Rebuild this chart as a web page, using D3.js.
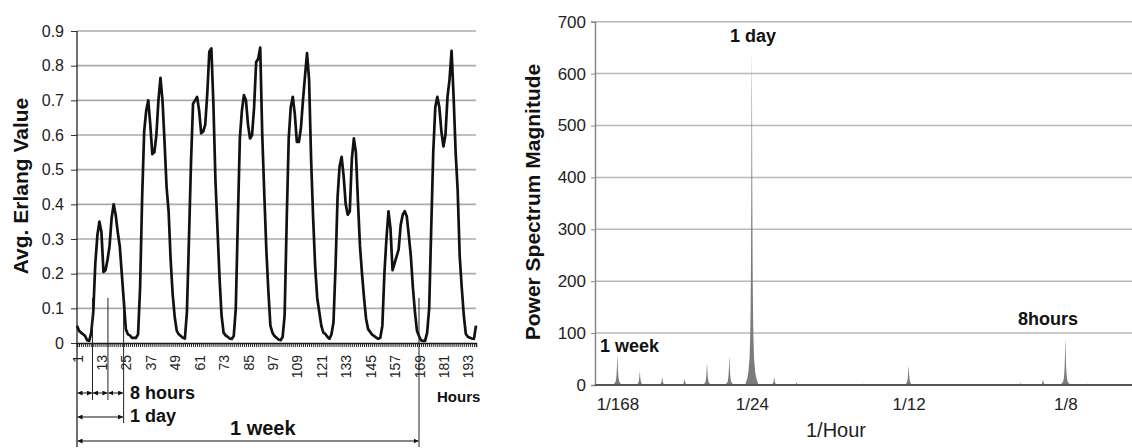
<!DOCTYPE html>
<html><head><meta charset="utf-8">
<script src="https://cdn.jsdelivr.net/npm/d3@7"></script>
<style>
body{margin:0;background:#fff;}
svg{display:block;font-family:"Liberation Sans",Arial,Helvetica,sans-serif;}
</style>
</head><body>
<svg id="c" width="1132" height="448"></svg>
<script>
// ---------- Left chart data: hourly average Erlang value (hours 1..197) ----------
const erlang = [
0.05,0.035,0.03,0.025,0.02,0.008,0.006,0.03,0.09,0.23,0.31,0.35,0.32,0.205,0.21,0.24,0.28,0.36,0.40,0.37,
0.32,0.28,0.2,0.12,0.04,0.025,0.022,0.015,0.015,0.015,0.025,0.16,0.42,0.61,0.67,0.70,0.63,0.545,0.55,0.6,
0.70,0.765,0.70,0.58,0.45,0.38,0.24,0.14,0.075,0.035,0.025,0.02,0.015,0.013,0.09,0.3,0.52,0.69,0.70,0.71,
0.67,0.605,0.61,0.63,0.72,0.84,0.85,0.69,0.47,0.33,0.19,0.08,0.03,0.022,0.018,0.013,0.012,0.02,0.1,0.35,
0.59,0.67,0.715,0.70,0.63,0.59,0.6,0.68,0.81,0.82,0.852,0.6,0.43,0.27,0.15,0.05,0.03,0.02,0.015,0.01,
0.008,0.017,0.08,0.35,0.59,0.68,0.71,0.66,0.58,0.58,0.62,0.70,0.77,0.836,0.76,0.53,0.36,0.22,0.13,0.09,
0.05,0.03,0.026,0.018,0.012,0.025,0.06,0.22,0.42,0.51,0.537,0.48,0.40,0.37,0.38,0.53,0.59,0.55,0.41,0.28,
0.2,0.13,0.07,0.04,0.032,0.024,0.02,0.015,0.012,0.015,0.05,0.2,0.30,0.38,0.33,0.21,0.23,0.25,0.27,0.34,
0.37,0.38,0.365,0.31,0.25,0.16,0.09,0.035,0.02,0.008,0.006,0.006,0.03,0.1,0.33,0.55,0.68,0.71,0.68,0.61,
0.567,0.6,0.71,0.76,0.843,0.71,0.55,0.44,0.25,0.16,0.08,0.026,0.018,0.015,0.013,0.012,0.05
];
const hourTickLabels = [1,13,25,37,49,61,73,85,97,109,121,133,145,157,169,181,193];
const erlangTicks = [0,0.1,0.2,0.3,0.4,0.5,0.6,0.7,0.8,0.9];
const eightHourMarks = [1,8.6,16.2,23.9];   // annotation boundaries (hours)
const dayMark = 23.9;
const weekMark = 169;

// ---------- Right chart data: power spectrum peaks at harmonics of 1/168 ----------
const harmonics  = [1,2,3,4,5,6,7,8,9,10,11,12,13,14,15,16,17,18,19,20,21,22,23,24];
const magnitudes = [58,26,15,12,42,55,645,15,5,1,2,3,1,37,1,0.5,1,1,4,10,88,3,1,0.5];
const freqTicks = [1/168, 1/24, 1/12, 1/8];
const freqTickLabels = ["1/168","1/24","1/12","1/8"];
const powerTicks = [0,100,200,300,400,500,600,700];
// spike profile (offset in harmonic units, relative height) - drawing shape of each peak
const spikeProfile = [[-0.3,0],[-0.2,0.02],[-0.15,0.04],[-0.1,0.08],[-0.07,0.15],[-0.05,0.25],[-0.035,0.38],[-0.02,0.6],[-0.01,0.85],[0,1],
  [0.01,0.85],[0.02,0.6],[0.035,0.38],[0.05,0.25],[0.07,0.15],[0.1,0.08],[0.15,0.04],[0.2,0.02],[0.3,0]];

const svg = d3.select("#c");

// ================= LEFT CHART =================
const hours = erlang.map((d,i)=>i+1);
const xL = d3.scaleLinear().domain([1, erlang.length]).range([77, 476]);
const yL = d3.scaleLinear().domain([0, 0.9]).range([343, 31]);
const L = svg.append("g");

// gridlines
L.append("g").selectAll("line").data(erlangTicks.filter(d=>d>0)).join("line")
  .attr("x1", xL.range()[0]).attr("x2", xL.range()[1])
  .attr("y1", d=>yL(d)).attr("y2", d=>yL(d))
  .attr("stroke", "#ababab").attr("stroke-width", 1.6);

// y axis
const yAxL = L.append("g").attr("transform", `translate(${xL.range()[0]},0)`)
  .call(d3.axisLeft(yL).tickValues(erlangTicks).tickSize(6).tickPadding(7)
    .tickFormat(d => d === 0 ? "0" : d3.format(".1f")(d)));
yAxL.select(".domain").remove();
yAxL.selectAll(".tick line").attr("stroke", "#333");
yAxL.selectAll("text").attr("font-size", 16).attr("fill", "#222").attr("font-family", "Liberation Sans, Arial, sans-serif");
// long y axis line extending to annotations
L.append("line").attr("x1", xL(1)).attr("x2", xL(1)).attr("y1", yL(0.9)).attr("y2", 447)
  .attr("stroke", "#111").attr("stroke-width", 1.2);

// x axis with hourly minor ticks
const xAxL = L.append("g").attr("transform", `translate(0,${yL(0)})`)
  .call(d3.axisBottom(xL).tickValues(hours).tickSize(4).tickFormat(""));
xAxL.select(".domain").attr("stroke", "#111").attr("stroke-width", 1.5);
xAxL.selectAll(".tick line").attr("stroke", "#222").attr("stroke-width", 1);

const xLab = L.append("g").attr("transform", `translate(0,${yL(0)})`)
  .call(d3.axisBottom(xL).tickValues(hourTickLabels).tickSize(0).tickFormat(d3.format("d")));
xLab.select(".domain").remove();
xLab.selectAll("text")
  .attr("transform", "rotate(-90)")
  .attr("x", -12).attr("y", 0).attr("dy", "0.36em")
  .attr("text-anchor", "end")
  .attr("font-size", 14).attr("fill", "#222")
  .attr("font-family", "Liberation Sans, Arial, sans-serif");

// data line
L.append("path").datum(erlang)
  .attr("fill", "none").attr("stroke", "#111").attr("stroke-width", 2.7)
  .attr("stroke-linejoin", "round")
  .attr("d", d3.line().x((d,i)=>xL(i+1)).y(d=>yL(d)));

// annotation vertical lines
const vlines = [
  {h: eightHourMarks[1], y1: 298, y2: 400},
  {h: eightHourMarks[2], y1: 298, y2: 400},
  {h: dayMark, y1: 308, y2: 423},
  {h: weekMark, y1: 298, y2: 447}
];
L.append("g").selectAll("line").data(vlines).join("line")
  .attr("x1", d=>xL(d.h)).attr("x2", d=>xL(d.h))
  .attr("y1", d=>d.y1).attr("y2", d=>d.y2)
  .attr("stroke", "#222").attr("stroke-width", 1);

// arrow marker
const defs = svg.append("defs");
defs.append("marker").attr("id", "ah").attr("viewBox", "0 0 10 10")
  .attr("refX", 10).attr("refY", 5).attr("markerWidth", 5).attr("markerHeight", 5)
  .attr("markerUnits", "userSpaceOnUse")
  .attr("orient", "auto-start-reverse")
  .append("path").attr("d", "M0,0 L10,5 L0,10 z").attr("fill", "#111");

const arrows = [
  {a: eightHourMarks[0], b: eightHourMarks[1], y: 393},
  {a: eightHourMarks[1], b: eightHourMarks[2], y: 393},
  {a: eightHourMarks[2], b: eightHourMarks[3], y: 393},
  {a: 1, b: dayMark, y: 417},
  {a: 1, b: weekMark, y: 441}
];
L.append("g").selectAll("line").data(arrows).join("line")
  .attr("x1", d=>xL(d.a)+0.5).attr("x2", d=>xL(d.b)-0.5)
  .attr("y1", d=>d.y).attr("y2", d=>d.y)
  .attr("stroke", "#111").attr("stroke-width", 1)
  .attr("marker-start", "url(#ah)").attr("marker-end", "url(#ah)");

L.append("text").attr("x", 130).attr("y", 399).attr("font-size", 18).attr("font-weight", "bold").attr("fill", "#111").text("8 hours");
L.append("text").attr("x", 130).attr("y", 422).attr("font-size", 18).attr("font-weight", "bold").attr("fill", "#111").text("1 day");
L.append("text").attr("x", 230).attr("y", 435).attr("font-size", 20).attr("font-weight", "bold").attr("fill", "#111").text("1 week");
L.append("text").attr("x", 437).attr("y", 402).attr("font-size", 15).attr("font-weight", "bold").attr("fill", "#111").text("Hours");
L.append("text").attr("transform", "translate(28,186) rotate(-90)").attr("text-anchor", "middle")
  .attr("font-size", 21).attr("font-weight", "bold").attr("fill", "#111").text("Avg. Erlang Value");

// ================= RIGHT CHART =================
const xR = d3.scaleLinear().domain([0, 24/168]).range([595, 1132.6]);
const yR = d3.scaleLinear().domain([0, 700]).range([385, 21.7]);
const R = svg.append("g");

R.append("defs").append("clipPath").attr("id", "clipR")
  .append("rect").attr("x", 595).attr("y", 0).attr("width", 537).attr("height", 386);

R.append("g").selectAll("line").data(powerTicks.filter(d=>d>0)).join("line")
  .attr("x1", 595).attr("x2", 1132)
  .attr("y1", d=>yR(d)).attr("y2", d=>yR(d))
  .attr("stroke", "#b9b9b9").attr("stroke-width", 1.5);

const yAxR = R.append("g").attr("transform", "translate(595,0)")
  .call(d3.axisLeft(yR).tickValues(powerTicks).tickSize(4).tickPadding(5));
yAxR.select(".domain").attr("stroke", "#888").attr("stroke-width", 1.5);
yAxR.selectAll(".tick line").attr("stroke", "#888");
yAxR.selectAll("text").attr("font-size", 17).attr("fill", "#222").attr("font-family", "Liberation Sans, Arial, sans-serif");

// spectrum spikes
const area = d3.area().x(d=>d[0]).y0(yR(0)).y1(d=>d[1]);
const peaks = harmonics.map((k,i)=>({k, m: magnitudes[i]}));
R.append("g").attr("clip-path", "url(#clipR)").selectAll("path").data(peaks).join("path")
  .attr("fill", "#7b7b7b")
  .attr("d", p => area(spikeProfile.map(([o, r]) => [xR((p.k + o)/168), yR(p.m * r)])));

// x axis
R.append("line").attr("x1", 595).attr("x2", 1132).attr("y1", yR(0)).attr("y2", yR(0))
  .attr("stroke", "#555").attr("stroke-width", 1.8);
const xAxR = R.append("g").attr("transform", `translate(0,${yR(0)})`)
  .call(d3.axisBottom(xR).tickValues(freqTicks).tickSize(0).tickPadding(13)
    .tickFormat((d,i)=>freqTickLabels[i]));
xAxR.select(".domain").remove();
xAxR.selectAll("text").attr("font-size", 17).attr("fill", "#222").attr("font-family", "Liberation Sans, Arial, sans-serif");

R.append("text").attr("x", 806).attr("y", 437).attr("font-size", 20).attr("fill", "#222").text("1/Hour");
R.append("text").attr("transform", "translate(540,202) rotate(-90)").attr("text-anchor", "middle")
  .attr("font-size", 21).attr("font-weight", "bold").attr("fill", "#111").text("Power Spectrum Magnitude");
R.append("text").attr("x", 600).attr("y", 352).attr("font-size", 18).attr("font-weight", "bold").attr("fill", "#111").text("1 week");
R.append("text").attr("x", 730).attr("y", 42).attr("font-size", 18).attr("font-weight", "bold").attr("fill", "#111").text("1 day");
R.append("text").attr("x", 1018).attr("y", 325).attr("font-size", 18).attr("font-weight", "bold").attr("fill", "#111").text("8hours");
</script>
</body></html>
